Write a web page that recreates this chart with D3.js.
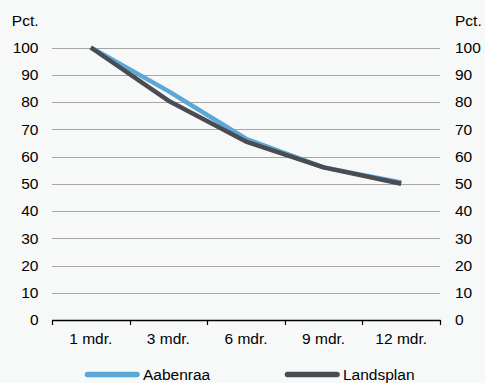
<!DOCTYPE html>
<html><head><meta charset="utf-8">
<script src="https://cdn.jsdelivr.net/npm/d3@7"></script>
<style>
html,body{margin:0;padding:0;background:#f7f8f8;}
svg{display:block;font-family:"Liberation Sans",Arial,sans-serif;}
</style></head>
<body>
<script>
const categories = ["1 mdr.", "3 mdr.", "6 mdr.", "9 mdr.", "12 mdr."];
const aabenraa = [100, 84, 66.5, 56, 50.5];
const landsplan = [100, 80.5, 65.5, 56, 50];
const yTicks = [0, 10, 20, 30, 40, 50, 60, 70, 80, 90, 100];
const seriesNames = ["Aabenraa", "Landsplan"];
const seriesColors = ["#5ba8d8", "#4b4b52"];

(function () {
const W = 485, H = 383;
const svg = d3.select("body").append("svg").attr("width", W).attr("height", H);
svg.append("rect").attr("width", W).attr("height", H).attr("fill", "#f7f8f8");

const mLeft = 52, mRight = 440, mTop = 47.5, mBottom = 320;
const x = d3.scaleBand().domain(categories).range([mLeft, mRight]).padding(0);
const y = d3.scaleLinear().domain([0, 100]).range([mBottom, mTop]);

// gridlines
svg.append("g").selectAll("line").data(yTicks.filter(d => d > 0)).join("line")
  .attr("x1", mLeft).attr("x2", mRight)
  .attr("y1", d => Math.round(y(d)) + 0.5).attr("y2", d => Math.round(y(d)) + 0.5)
  .attr("stroke", "#a6a6a6").attr("stroke-width", 1);

const fs = 15.5;
svg.append("g").selectAll("text").data(yTicks).join("text")
  .attr("x", 38.5).attr("y", d => y(d)).attr("dy", "0.35em")
  .attr("text-anchor", "end").attr("font-size", fs).attr("fill", "#000").text(d => d);
svg.append("g").selectAll("text").data(yTicks).join("text")
  .attr("x", 455).attr("y", d => y(d)).attr("dy", "0.35em")
  .attr("text-anchor", "start").attr("font-size", fs).attr("fill", "#000").text(d => d);
svg.append("text").attr("x", 38.5).attr("y", 21).attr("dy", "0.35em").attr("text-anchor", "end")
  .attr("font-size", fs).text("Pct.");
svg.append("text").attr("x", 455).attr("y", 21).attr("dy", "0.35em").attr("text-anchor", "start")
  .attr("font-size", fs).text("Pct.");

// x axis
const xAxis = svg.append("g").attr("transform", `translate(0,${mBottom})`);
xAxis.append("line").attr("x1", mLeft).attr("x2", mRight + 0.5).attr("y1", 0.5).attr("y2", 0.5)
  .attr("stroke", "#000").attr("stroke-width", 1.5);
const tickPos = categories.map(c => x(c)).concat([mRight]);
xAxis.selectAll("line.tick").data(tickPos).join("line").attr("class", "tick")
  .attr("x1", d => Math.round(d) + 0.5).attr("x2", d => Math.round(d) + 0.5)
  .attr("y1", 0).attr("y2", 5).attr("stroke", "#000").attr("stroke-width", 1.2);
xAxis.selectAll("text").data(categories).join("text")
  .attr("x", d => x(d) + x.bandwidth() / 2).attr("y", 19).attr("dy", "0.35em")
  .attr("text-anchor", "middle").attr("font-size", fs).text(d => d);

// lines
const line = d3.line().x((d, i) => x(categories[i]) + x.bandwidth() / 2).y(d => y(d));
[aabenraa, landsplan].forEach((s, i) => {
  svg.append("path").datum(s).attr("d", line).attr("fill", "none")
    .attr("stroke", seriesColors[i]).attr("stroke-width", 4.5)
    .attr("stroke-linejoin", "round").attr("stroke-linecap", "butt");
});

// legend
const legX = [85, 285];
seriesNames.forEach((n, i) => {
  const g = svg.append("g");
  g.append("line").attr("x1", legX[i] + 2.5).attr("x2", legX[i] + 52).attr("y1", 374.5).attr("y2", 374.5)
    .attr("stroke", seriesColors[i]).attr("stroke-width", 5.5).attr("stroke-linecap", "round");
  g.append("text").attr("x", legX[i] + 58).attr("y", 374.5).attr("dy", "0.35em")
    .attr("font-size", fs).text(n);
});
})();
</script>
</body></html>
